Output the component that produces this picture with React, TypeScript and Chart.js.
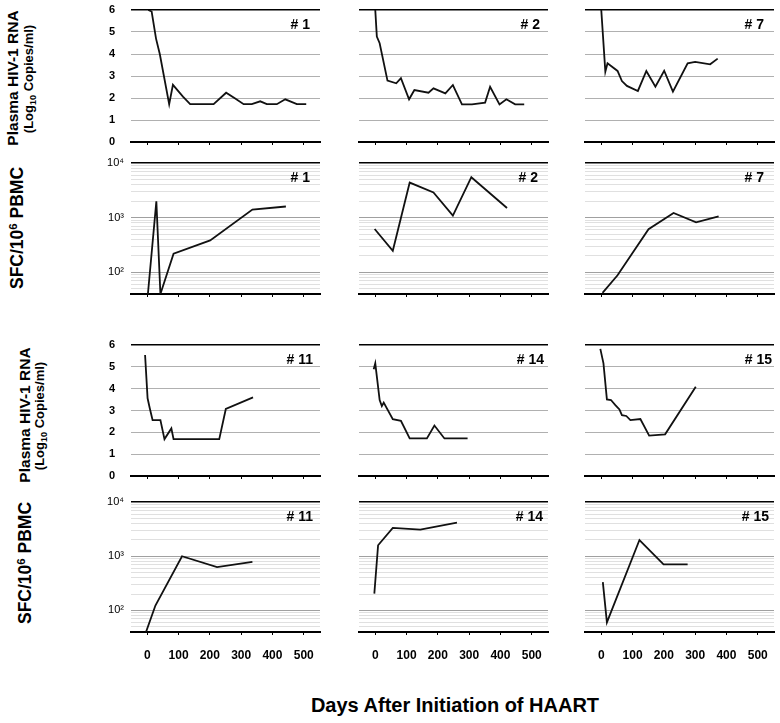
import React, { useEffect, useRef } from 'react';
import { Chart, registerables } from 'chart.js';

Chart.register(...registerables);

const FONT = '"Liberation Sans", Arial, Helvetica, sans-serif';

// ---- Data (days after HAART start, values) ----
const p1RnaDays = [3, 14, 28, 40, 70, 82, 114, 137, 212, 252, 281, 308, 334, 361, 382, 414, 441, 478, 508];
const p1RnaLog = [6.0, 5.93, 4.7, 4.0, 1.72, 2.6, 2.06, 1.72, 1.72, 2.24, 1.98, 1.72, 1.72, 1.85, 1.72, 1.72, 1.94, 1.72, 1.72];
const p2RnaDays = [0, 5, 14, 39, 67, 82, 108, 125, 170, 186, 224, 248, 277, 309, 351, 367, 397, 419, 447, 476];
const p2RnaLog = [6.0, 4.79, 4.49, 2.79, 2.67, 2.9, 1.94, 2.36, 2.24, 2.44, 2.21, 2.59, 1.71, 1.71, 1.79, 2.51, 1.71, 1.94, 1.71, 1.71];
const p7RnaDays = [0, 13, 20, 52, 66, 82, 117, 144, 173, 201, 229, 276, 300, 348, 372];
const p7RnaLog = [6.0, 3.2, 3.58, 3.23, 2.77, 2.55, 2.32, 3.23, 2.51, 3.24, 2.29, 3.58, 3.64, 3.53, 3.79];
const p1SfcDays = [2, 29, 42, 84, 201, 336, 443];
const p1Sfc = [40, 1990, 40, 218, 383, 1400, 1600];
const p2SfcDays = [-2, 56, 110, 186, 248, 307, 421];
const p2Sfc = [620, 248, 4380, 2880, 1086, 5490, 1500];
const p7SfcDays = [4, 52, 151, 231, 303, 375];
const p7Sfc = [42, 88, 616, 1217, 822, 1057];
const p11RnaDays = [-7, 1, 8, 17, 42, 55, 77, 84, 230, 251, 338];
const p11RnaLog = [5.54, 3.56, 3.1, 2.56, 2.56, 1.69, 2.18, 1.69, 1.69, 3.07, 3.6];
const p14RnaDays = [-5, 0, 14, 21, 27, 56, 82, 110, 165, 189, 221, 295];
const p14RnaLog = [4.89, 5.16, 3.48, 3.2, 3.36, 2.6, 2.53, 1.72, 1.72, 2.31, 1.72, 1.72];
const p15RnaDays = [-3, 7, 18, 31, 45, 58, 66, 80, 93, 125, 153, 204, 302];
const p15RnaLog = [5.82, 5.16, 3.51, 3.48, 3.25, 3.05, 2.79, 2.75, 2.56, 2.61, 1.85, 1.91, 4.09];
const p11SfcDays = [-4, 26, 111, 223, 336];
const p11Sfc = [40, 123, 1000, 632, 786];
const p14SfcDays = [-3, 9, 56, 144, 261];
const p14Sfc = [204, 1590, 3340, 3100, 4180];
const p15SfcDays = [5, 18, 122, 199, 276];
const p15Sfc = [333, 60, 1990, 710, 710];

// ---- Ticks ----
const dayTicks = [0, 100, 200, 300, 400, 500];
const rnaTicks = [0, 1, 2, 3, 4, 5, 6];
const sfcTicks = [50, 60, 70, 80, 90, 100, 200, 300, 400, 500, 600, 700, 800, 900, 1000, 2000, 3000, 4000, 5000, 6000, 7000, 8000, 9000, 10000];
const sfcTickLabels: Record<string, string> = { '100': '10²', '1000': '10³', '10000': '10⁴' };

// ---- Layout ----
const colLeft = [131, 359, 585];
const plotW = 189;
const rowTop = [10, 163, 345, 502];
const rowH = [132, 131, 131, 130];

type PanelDef = { row: number; col: number; kind: 'rna' | 'sfc'; days: number[]; vals: number[]; tag: string; tagDx: number };

const panels: PanelDef[] = [
  { row: 0, col: 0, kind: 'rna', days: p1RnaDays, vals: p1RnaLog, tag: '# 1', tagDx: 10 },
  { row: 0, col: 1, kind: 'rna', days: p2RnaDays, vals: p2RnaLog, tag: '# 2', tagDx: 8 },
  { row: 0, col: 2, kind: 'rna', days: p7RnaDays, vals: p7RnaLog, tag: '# 7', tagDx: 10 },
  { row: 1, col: 0, kind: 'sfc', days: p1SfcDays, vals: p1Sfc, tag: '# 1', tagDx: 10 },
  { row: 1, col: 1, kind: 'sfc', days: p2SfcDays, vals: p2Sfc, tag: '# 2', tagDx: 10 },
  { row: 1, col: 2, kind: 'sfc', days: p7SfcDays, vals: p7Sfc, tag: '# 7', tagDx: 10 },
  { row: 2, col: 0, kind: 'rna', days: p11RnaDays, vals: p11RnaLog, tag: '# 11', tagDx: 7 },
  { row: 2, col: 1, kind: 'rna', days: p14RnaDays, vals: p14RnaLog, tag: '# 14', tagDx: 4 },
  { row: 2, col: 2, kind: 'rna', days: p15RnaDays, vals: p15RnaLog, tag: '# 15', tagDx: 2 },
  { row: 3, col: 0, kind: 'sfc', days: p11SfcDays, vals: p11Sfc, tag: '# 11', tagDx: 7 },
  { row: 3, col: 1, kind: 'sfc', days: p14SfcDays, vals: p14Sfc, tag: '# 14', tagDx: 5 },
  { row: 3, col: 2, kind: 'sfc', days: p15SfcDays, vals: p15Sfc, tag: '# 15', tagDx: 5 },
];

const panelTagPlugin = {
  id: 'panelTag',
  afterDraw(chart: any, _args: any, opts: any) {
    if (!opts || !opts.text) return;
    const { ctx, chartArea } = chart;
    ctx.save();
    ctx.font = `bold 14px ${FONT}`;
    ctx.fillStyle = '#000';
    ctx.textAlign = 'right';
    ctx.textBaseline = 'alphabetic';
    ctx.fillText(opts.text, chartArea.right - opts.dx, chartArea.top + 18.5);
    ctx.restore();
  },
};
Chart.register(panelTagPlugin);

const PAD_L = 44;
const PAD_T = 10;
const PAD_R = 8;

function Panel({ p }: { p: PanelDef }) {
  const ref = useRef<HTMLCanvasElement>(null);
  const padB = p.row === 3 ? 34 : 6;
  const left = colLeft[p.col];
  const top = rowTop[p.row];
  const h = rowH[p.row];
  const W = plotW + PAD_L + PAD_R;
  const H = h + PAD_T + padB;

  useEffect(() => {
    if (!ref.current) return;
    const isRna = p.kind === 'rna';
    const labelColor = p.col === 0 ? '#000' : '#fff';
    const fixY = (s: any) => {
      s.width = PAD_L;
      s.paddingTop = 0;
      s.paddingBottom = 0;
    };
    const yScale: any = isRna
      ? {
          type: 'linear',
          min: 0,
          max: 6,
          afterBuildTicks: (s: any) => { s.ticks = rnaTicks.map((v) => ({ value: v })); },
          afterFit: fixY,
          ticks: {
            display: true,
            padding: 16,
            autoSkip: false,
            color: labelColor,
            font: { family: FONT, size: 11, weight: 'bold' },
            callback: (v: any) => String(v),
          },
          grid: {
            drawTicks: false,
            color: (c: any) => (c.tick && (c.tick.value === 6 || c.tick.value === 0) ? '#000' : '#b0b0b0'),
            lineWidth: (c: any) => (c.tick && c.tick.value === 6 ? 1.6 : 1),
          },
          border: { display: false },
        }
      : {
          type: 'logarithmic',
          min: 40,
          max: 10000,
          afterBuildTicks: (s: any) => { s.ticks = sfcTicks.map((v) => ({ value: v })); },
          afterFit: fixY,
          ticks: {
            display: true,
            padding: 7,
            autoSkip: false,
            color: labelColor,
            font: { family: FONT, size: 11 },
            callback: (v: any) => sfcTickLabels[String(v)] ?? '',
          },
          grid: {
            drawTicks: false,
            color: (c: any) => {
              const v = c.tick ? c.tick.value : 0;
              if (v === 10000) return '#000';
              if (v === 100 || v === 1000) return '#a0a0a0';
              return '#e0e0e0';
            },
            lineWidth: (c: any) => (c.tick && c.tick.value === 10000 ? 1.6 : 1),
          },
          border: { display: false },
        };

    const chart = new Chart(ref.current, {
      type: 'line',
      data: {
        datasets: [
          {
            data: p.days.map((d, i) => ({ x: d, y: p.vals[i] })),
            borderColor: '#111',
            borderWidth: 1.8,
            pointRadius: 0,
            fill: false,
            tension: 0,
          },
        ],
      },
      options: {
        animation: false,
        responsive: false,
        events: [],
        layout: { padding: { left: 0, top: PAD_T, right: PAD_R, bottom: 0 } },
        plugins: {
          legend: { display: false },
          tooltip: { enabled: false },
          panelTag: { text: p.tag, dx: p.tagDx },
        } as any,
        scales: {
          x: {
            type: 'linear',
            min: -52,
            max: 552,
            afterBuildTicks: (s: any) => { s.ticks = dayTicks.map((v) => ({ value: v })); },
            afterFit: (s: any) => {
              s.height = padB;
              s.paddingLeft = 0;
              s.paddingRight = 0;
            },
            ticks: {
              display: p.row === 3,
              padding: 13,
              autoSkip: false,
              maxRotation: 0,
              color: '#000',
              font: { family: FONT, size: 12, weight: 'bold' },
              callback: (v: any) => String(v),
            },
            grid: { display: true, drawOnChartArea: false, drawTicks: true, tickLength: 3, color: '#000' },
            border: { display: true, color: '#000', width: 2 },
          } as any,
          y: yScale,
        },
      } as any,
    });
    return () => chart.destroy();
  }, []);

  return (
    <canvas
      ref={ref}
      width={W}
      height={H}
      style={{ position: 'absolute', left: left - PAD_L, top: top - PAD_T, width: W, height: H }}
    />
  );
}

function VLabel({ cx, cy, size, children }: { cx: number; cy: number; size: number; children: React.ReactNode }) {
  return (
    <div
      style={{
        position: 'absolute',
        left: cx,
        top: cy,
        transform: 'translate(-50%, -50%) rotate(-90deg)',
        fontFamily: FONT,
        fontWeight: 'bold',
        fontSize: size,
        lineHeight: `${size}px`,
        whiteSpace: 'nowrap',
        color: '#000',
      }}
    >
      {children}
    </div>
  );
}

const subStyle: React.CSSProperties = { fontSize: '0.7em', verticalAlign: 'baseline', position: 'relative', top: '0.3em' };
const supStyle: React.CSSProperties = { fontSize: '0.65em', verticalAlign: 'baseline', position: 'relative', top: '-0.5em' };

function RnaLabel({ x1, x2, cy }: { x1: number; x2: number; cy: number }) {
  return (
    <>
      <VLabel cx={x1} cy={cy} size={15.5}>Plasma HIV-1 RNA</VLabel>
      <VLabel cx={x2} cy={cy + 1} size={13}>
        (Log<span style={subStyle}>10</span> Copies/ml)
      </VLabel>
    </>
  );
}

function SfcLabel({ cx, cy }: { cx: number; cy: number }) {
  return (
    <VLabel cx={cx} cy={cy} size={17.5}>
      SFC/10<span style={supStyle}>6</span> PBMC
    </VLabel>
  );
}

export default function App() {
  return (
    <div style={{ position: 'absolute', left: 0, top: 0, width: 780, height: 723, background: '#fff', overflow: 'hidden', fontFamily: FONT }}>
      {panels.map((p, i) => (
        <Panel key={i} p={p} />
      ))}
      <RnaLabel x1={12.5} x2={29} cy={78} />
      <SfcLabel cx={18.5} cy={228} />
      <RnaLabel x1={25} x2={40} cy={415} />
      <SfcLabel cx={27} cy={563} />
      <div
        style={{
          position: 'absolute',
          left: 455,
          top: 695,
          transform: 'translateX(-50%)',
          fontFamily: FONT,
          fontWeight: 'bold',
          fontSize: 20,
          lineHeight: '20px',
          whiteSpace: 'nowrap',
          color: '#000',
        }}
      >
        Days After Initiation of HAART
      </div>
    </div>
  );
}
